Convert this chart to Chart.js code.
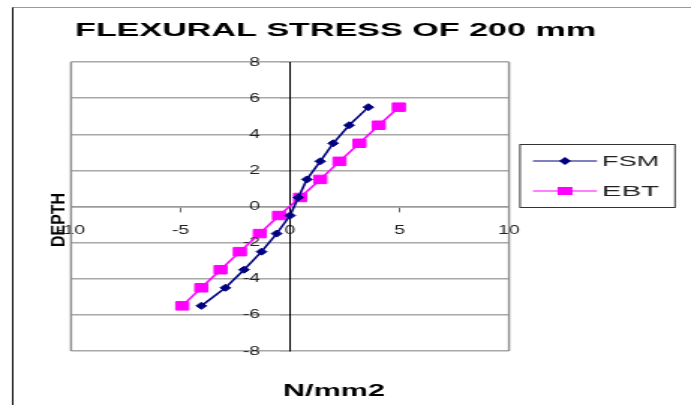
<!DOCTYPE html>
<html>
<head>
<meta charset="utf-8">
<script src="https://cdn.jsdelivr.net/npm/chart.js@4"></script>
<style>
  html, body { margin: 0; padding: 0; background: #fff; }
</style>
</head>
<body>
<canvas id="chart" width="461" height="405" style="display:block;width:691px;height:405px"></canvas>
<script>
// depth levels (y) and stress values (x)
const depth = [-5.5, -4.5, -3.5, -2.5, -1.5, -0.5, 0.5, 1.5, 2.5, 3.5, 4.5, 5.5];
const fsm = [-4.05, -2.95, -2.1, -1.3, -0.61, 0, 0.38, 0.77, 1.38, 1.97, 2.7, 3.58];
const ebt = [-4.92, -4.05, -3.17, -2.29, -1.38, -0.5, 0.46, 1.38, 2.26, 3.17, 4.05, 4.97];
const xTicks = [-10, -5, 0, 5, 10];
const yTicks = [-8, -6, -4, -2, 0, 2, 4, 6, 8];

// the original picture is stretched sideways, so the canvas is drawn narrow and widened by css
const S = 691 / 461;

function fitText(ctx, text, x, y, w) {
    const m = ctx.measureText(text).width;
    ctx.save();
    ctx.translate(x, y);
    ctx.scale(w / m, 1);
    ctx.fillText(text, 0, 0);
    ctx.restore();
}

const tickFont = { family: '"Liberation Sans", Arial, sans-serif', size: 13 };

const extras = {
    id: 'extras',
    afterDraw(chart) {
        const ctx = chart.ctx;
        const a = chart.chartArea;
        const xs = chart.scales.x, ys = chart.scales.y;
        ctx.save();

        // plot area sides
        ctx.strokeStyle = '#8c8c8c';
        ctx.lineWidth = 1.4;
        ctx.beginPath();
        ctx.moveTo(a.left, a.top); ctx.lineTo(a.left, a.bottom);
        ctx.moveTo(a.right, a.top); ctx.lineTo(a.right, a.bottom);
        ctx.stroke();

        // y tick labels, set back from the axis like the original
        ctx.fillStyle = '#222';
        ctx.font = '13px "Liberation Sans", Arial, sans-serif';
        ctx.textAlign = 'right';
        ctx.textBaseline = 'middle';
        const x0 = xs.getPixelForValue(0);
        ys.ticks.forEach(t => {
            ctx.fillText(String(t.value), x0 - 20, ys.getPixelForValue(t.value));
        });

        // outer frame
        ctx.strokeStyle = '#000';
        ctx.lineWidth = 1;
        ctx.beginPath();
        ctx.moveTo(8.5, 7); ctx.lineTo(8.5, 405);
        ctx.stroke();
        ctx.strokeStyle = '#9a9a9a';
        ctx.beginPath();
        ctx.moveTo(8.5, 7.5); ctx.lineTo(461, 7.5);
        ctx.stroke();

        // title
        ctx.fillStyle = '#000';
        ctx.textAlign = 'left';
        ctx.textBaseline = 'alphabetic';
        ctx.font = 'bold 18px "Liberation Sans", Arial, sans-serif';
        fitText(ctx, 'FLEXURAL STRESS OF 200 mm', 75 / S, 36, 521 / S);

        // axis titles
        ctx.font = 'bold 16px "Liberation Sans", Arial, sans-serif';
        fitText(ctx, 'N/mm2', 283 / S, 396, 102 / S);

        ctx.save();
        ctx.translate(64 / S, 247);
        ctx.rotate(-Math.PI / 2);
        ctx.font = 'bold 12px "Liberation Sans", Arial, sans-serif';
        fitText(ctx, 'DEPTH', 0, 0, 54);
        ctx.restore();

        // legend
        const lx = 520 / S, ly = 144, lw = 155 / S, lh = 63;
        ctx.fillStyle = '#fff';
        ctx.fillRect(lx, ly, lw, lh);
        ctx.strokeStyle = '#333';
        ctx.lineWidth = 1;
        ctx.strokeRect(lx, ly + 0.5, lw, lh);
        const rows = [161, 191];
        chart.data.datasets.forEach((ds, i) => {
            const y = rows[i];
            ctx.strokeStyle = ds.borderColor;
            ctx.lineWidth = 1;
            ctx.beginPath();
            ctx.moveTo(533 / S, y); ctx.lineTo(597 / S, y);
            ctx.stroke();
            const cx = 565 / S;
            ctx.fillStyle = ds.backgroundColor;
            ctx.beginPath();
            if (ds.pointStyle === 'rect') {
                ctx.rect(cx - 5, y - 4, 10, 8);
            } else {
                ctx.moveTo(cx, y - 4); ctx.lineTo(cx + 4, y);
                ctx.lineTo(cx, y + 4); ctx.lineTo(cx - 4, y);
                ctx.closePath();
            }
            ctx.fill();
            ctx.fillStyle = '#222';
            ctx.font = '14px "Liberation Sans", Arial, sans-serif';
            fitText(ctx, ds.label, 602 / S, y + 5, 57 / S);
        });

        ctx.restore();
    }
};

new Chart(document.getElementById('chart'), {
    type: 'scatter',
    data: {
        datasets: [
            {
                label: 'FSM',
                data: depth.map((d, i) => ({ x: fsm[i], y: d })),
                showLine: true,
                borderColor: '#000080',
                backgroundColor: '#000080',
                borderWidth: 1.6,
                pointStyle: 'rectRot',
                pointRadius: 3.5,
                pointBorderWidth: 1
            },
            {
                label: 'EBT',
                data: depth.map((d, i) => ({ x: ebt[i], y: d })),
                showLine: true,
                borderColor: '#ff00ff',
                backgroundColor: '#ff00ff',
                borderWidth: 1.6,
                pointStyle: 'rect',
                pointRadius: 6,
                pointBorderWidth: 1
            }
        ]
    },
    options: {
        responsive: false,
        animation: false,
        layout: { padding: { left: 71 / S, right: 461 - 509 / S, top: 62, bottom: 54 } },
        plugins: {
            legend: { display: false },
            title: { display: false },
            tooltip: { enabled: false }
        },
        scales: {
            x: {
                type: 'linear',
                position: { y: 0 },
                min: xTicks[0],
                max: xTicks[xTicks.length - 1],
                afterBuildTicks: s => { s.ticks = xTicks.map(v => ({ value: v })); },
                ticks: { font: tickFont, color: '#222', padding: 11, maxRotation: 0 },
                grid: { drawOnChartArea: false, tickLength: 5, color: '#666' },
                border: { color: '#9a9a9a', width: 1.4 }
            },
            y: {
                type: 'linear',
                position: { x: 0 },
                min: yTicks[0],
                max: yTicks[yTicks.length - 1],
                afterBuildTicks: s => { s.ticks = yTicks.map(v => ({ value: v })); },
                ticks: { display: false },
                grid: { color: '#a8a8a8', lineWidth: 1.5, tickLength: 6 },
                border: { color: '#000', width: 1 }
            }
        }
    },
    plugins: [extras]
});
</script>
</body>
</html>
